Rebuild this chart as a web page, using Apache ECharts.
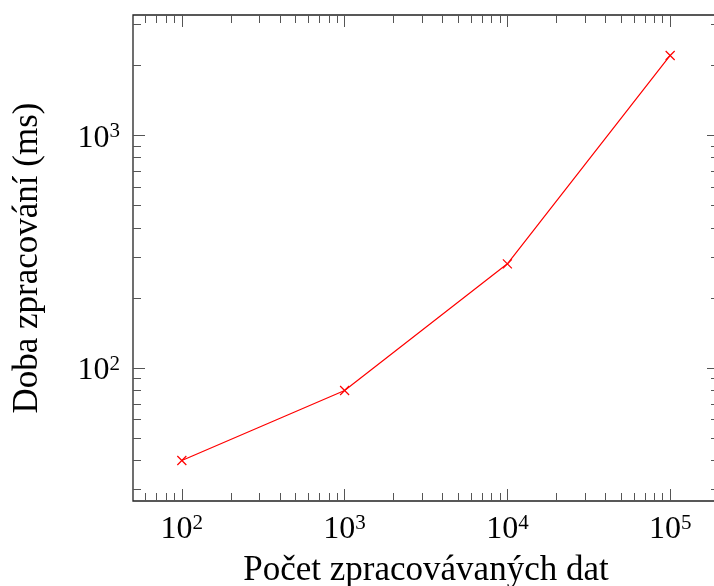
<!DOCTYPE html>
<html>
<head>
<meta charset="utf-8">
<script src="https://cdn.jsdelivr.net/npm/echarts@6/dist/echarts.min.js"></script>
<style>
html,body{margin:0;padding:0;background:#fff}
#chart{width:714px;height:586px}
</style>
</head>
<body>
<div id="chart"></div>
<script>
// data (log-log)
var pocet = [100, 1000, 10000, 100000];
var doba = [40, 80, 280, 2200];

// ticks
var xMajor = [100, 1000, 10000, 100000];
var xMinor = [60, 70, 80, 90, 200, 300, 400, 500, 600, 700, 800, 900,
  2000, 3000, 4000, 5000, 6000, 7000, 8000, 9000,
  20000, 30000, 40000, 50000, 60000, 70000, 80000, 90000];
var yMajor = [100, 1000];
var yMinor = [30, 40, 50, 60, 70, 80, 90, 200, 300, 400, 500, 600, 700, 800, 900, 2000, 3000];

var xRange = [50.12, 199526];
var yRange = [26.8, 3283];

var font = 'Liberation Serif, serif';

function supLabel(v) {
  return '10{s|' + Math.round(Math.log10(v)) + '}';
}
var labelRich = {
  s: { fontSize: 21, fontFamily: font, color: '#000', verticalAlign: 'bottom', lineHeight: 21, padding: [0, 0, 12, 0] }
};

function xAx(pos, ticks, len, withLabel) {
  var a = {
    type: 'log', logBase: 10, position: pos,
    min: xRange[0], max: xRange[1],
    axisLine: { show: false },
    splitLine: { show: false },
    axisTick: { show: true, inside: true, length: len, customValues: ticks,
      lineStyle: { color: '#555', width: 1 } },
    axisLabel: { show: false }
  };
  if (withLabel) {
    a.axisLabel = {
      show: true, customValues: ticks, margin: 13,
      fontFamily: font, fontSize: 32, color: '#000', lineHeight: 32,
      formatter: supLabel, rich: labelRich
    };
    a.name = 'Počet zpracovávaných dat';
    a.nameLocation = 'middle';
    a.nameGap = 52;
    a.nameTextStyle = { fontFamily: font, fontSize: 35, color: '#000', lineHeight: 35 };
  }
  return a;
}
function yAx(pos, ticks, len, withLabel) {
  var a = {
    type: 'log', logBase: 10, position: pos,
    min: yRange[0], max: yRange[1],
    axisLine: { show: false },
    splitLine: { show: false },
    axisTick: { show: true, inside: true, length: len, customValues: ticks,
      lineStyle: { color: '#555', width: 1 } },
    axisLabel: { show: false }
  };
  if (withLabel) {
    a.axisLabel = {
      show: true, customValues: ticks, margin: 13,
      fontFamily: font, fontSize: 32, color: '#000', lineHeight: 32,
      padding: [6, 0, 0, 0],
      formatter: supLabel, rich: labelRich
    };
    a.name = 'Doba zpracování (ms)';
    a.nameLocation = 'middle';
    a.nameGap = 88;
    a.nameTextStyle = { fontFamily: font, fontSize: 35, color: '#000', lineHeight: 35 };
  }
  return a;
}

var chart = echarts.init(document.getElementById('chart'), null, { renderer: 'canvas' });
chart.setOption({
  backgroundColor: '#fff',
  animation: false,
  grid: {
    left: 133, top: 15, width: 586, height: 486,
    containLabel: false, outerBoundsMode: 'none',
    show: true, borderColor: '#222', borderWidth: 1.3, backgroundColor: 'transparent'
  },
  xAxis: [
    xAx('bottom', xMajor, 12, true),
    xAx('bottom', xMinor, 8, false),
    xAx('top', xMajor, 12, false),
    xAx('top', xMinor, 8, false)
  ],
  yAxis: [
    yAx('left', yMajor, 12, true),
    yAx('left', yMinor, 8, false),
    yAx('right', yMajor, 12, false),
    yAx('right', yMinor, 8, false)
  ],
  series: [{
    type: 'line',
    xAxisIndex: 0, yAxisIndex: 0,
    data: pocet.map(function (x, i) { return [x, doba[i]]; }),
    lineStyle: { color: '#ff0000', width: 1.2 },
    symbol: 'path://M0,0L10,10M10,0L0,10',
    symbolSize: 9,
    itemStyle: { color: 'rgba(0,0,0,0)', borderColor: '#ff0000', borderWidth: 1.2 },
    showSymbol: true
  }]
});
</script>
</body>
</html>
